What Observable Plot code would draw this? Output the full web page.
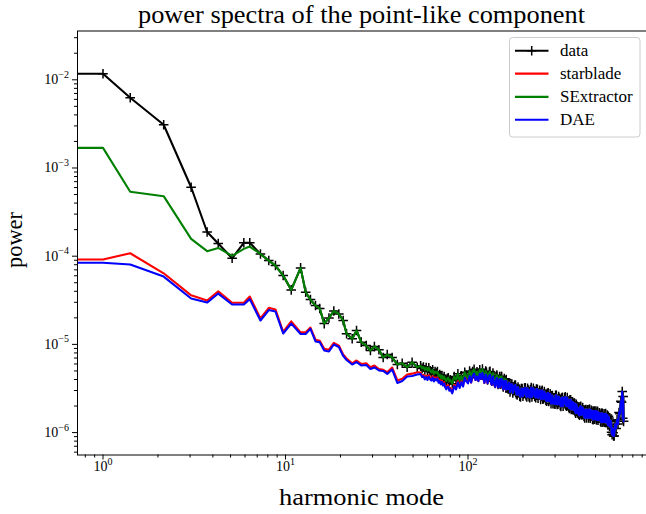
<!DOCTYPE html>
<html><head><meta charset="utf-8">
<script src="https://cdn.jsdelivr.net/npm/d3@7"></script>
<script src="https://cdn.jsdelivr.net/npm/@observablehq/plot@0.6"></script>
<style>
html,body{margin:0;padding:0;background:#fff;overflow:hidden}
#chart{position:relative;width:646px;height:514px}
#chart svg text,#chart svg tspan{font-family:'Liberation Serif',serif}
</style></head><body><div id="chart"></div>
<script>
const titleText = "power spectra of the point-like component";
const xLabel = "harmonic mode";
const yLabel = "power";
const seriesNames = ["data", "starblade", "SExtractor", "DAE"];
const seriesColors = ["#000000", "#ff0000", "#008000", "#0000ff"];

const xMajorTicks = [1, 10, 100];
const xMinorTicks = [0.8, 0.9, 2, 3, 4, 5, 6, 7, 8, 9, 20, 30, 40, 50, 60, 70, 80, 90, 200, 300, 400, 500, 600, 700, 800, 900];
const yMajorTicks = [1e-6, 1e-5, 1e-4, 1e-3, 1e-2];
const yMinorTicks = [6e-7, 7e-7, 8e-7, 9e-7, 2e-6, 3e-6, 4e-6, 5e-6, 6e-6, 7e-6, 8e-6, 9e-6,
  2e-5, 3e-5, 4e-5, 5e-5, 6e-5, 7e-5, 8e-5, 9e-5, 2e-4, 3e-4, 4e-4, 5e-4, 6e-4, 7e-4, 8e-4, 9e-4,
  2e-3, 3e-3, 4e-3, 5e-3, 6e-3, 7e-3, 8e-3, 9e-3, 2e-2, 3e-2];

const mode = [
  0, 1, 1.41, 2.15, 3.04, 3.72, 4.28, 5.1, 5.91, 6.37,
  7.29, 8.1, 8.81, 9.71, 10.75, 12.1, 12.9, 13.7, 14.6, 15.4,
  16.3, 17.3, 18.4, 19.6, 20.7, 21.6, 23.2, 24.5, 26, 27.7,
  29.2, 30.7, 32.5, 34.3, 36.1, 38.4, 41, 43.6, 46.4, 49.4,
  52.7,
  55, 56, 57, 58, 59, 60, 61, 62, 63, 64, 65, 66, 67, 68, 69, 70, 71, 72, 73, 74, 75, 76, 77, 78, 79, 80,
  82, 84, 86, 88, 90, 92, 94, 96, 98, 100, 102, 104, 106, 108, 110, 112, 114, 116, 118, 120,
  123, 125, 126, 128, 129, 131, 132, 134, 135, 137, 138, 140, 141, 143, 144, 146, 147, 149, 150, 152, 153, 155, 156, 158, 159, 161, 162, 164,
  166, 168, 170, 172, 174, 176, 178, 180, 182, 184, 186, 188, 190, 192, 194, 196, 198, 200, 202, 204, 206, 208, 210, 212, 214, 216, 218, 220, 222, 224, 226, 228, 230, 232,
  235, 237, 240, 242, 245, 247, 250, 252, 255, 257, 260, 262, 265, 267, 270, 272, 275, 277, 280, 282, 285, 287, 290, 292, 295, 297, 300, 302, 305, 308,
  311, 314, 317, 320, 323, 326, 329, 332, 335, 338, 341, 344, 347, 350, 353, 356, 359, 362, 365, 368, 371, 374, 377, 380, 383, 386, 389, 392, 395, 398, 401, 404,
  408, 411, 415, 418, 422, 425, 429, 432, 436, 439, 443, 446, 450, 453, 457, 460, 464, 467, 471, 474, 478, 481, 485, 488, 492, 495, 499, 502, 506, 509, 513, 516, 520, 524,
  528, 532, 536, 540, 544, 548, 552, 556, 560, 564, 568, 572, 576, 580, 584, 588, 592, 596, 600, 604, 608, 612, 616, 620, 624, 628,
  632, 640, 648, 656, 664, 672, 680, 688, 694, 700, 704, 708, 712
];

const dataPower = [
  1.17e-2, 1.17e-2, 6.25e-3, 3.09e-3, 6.05e-4, 1.88e-4, 1.39e-4, 9.47e-5, 1.42e-4, 1.42e-4,
  1.06e-4, 8.92e-5, 7.83e-5, 6.03e-5, 4.15e-5, 7.37e-5, 3.90e-5, 3.22e-5, 2.76e-5, 2.55e-5,
  1.72e-5, 1.99e-5, 2.39e-5, 2.21e-5, 1.865e-5, 1.32e-5, 1.157e-5, 1.437e-5, 1.06e-5, 9.7e-6,
  8.53e-6, 9.47e-6, 8.7e-6, 7.1e-6, 7.68e-6, 7.1e-6, 5.92e-6, 6.1e-6, 5.5e-6, 6.28e-6,
  5.5e-6,
  5.72e-6, 5.34e-6, 5.55e-6, 5.12e-6, 5.46e-6, 5.03e-6, 5.44e-6, 5.02e-6, 4.81e-6, 5.14e-6, 4.62e-6, 4.91e-6, 4.73e-6, 4.91e-6, 4.39e-6, 4.55e-6, 4.14e-6, 4.43e-6, 4.06e-6, 4.32e-6, 4.01e-6, 3.83e-6, 4.11e-6, 4.19e-6, 3.79e-6, 3.96e-6,
  3.58e-6, 4.33e-6, 3.97e-6, 4.64e-6, 3.87e-6, 4.41e-6, 3.89e-6, 4.84e-6, 4.37e-6, 4.15e-6, 4.99e-6, 4.19e-6, 4.92e-6, 5.22e-6, 4.44e-6, 4.89e-6, 4.31e-6, 5.14e-6, 4.46e-6, 5.24e-6,
  4.05e-6, 4.97e-6, 4.85e-6, 3.96e-6, 4.27e-6, 4.85e-6, 4.94e-6, 3.97e-6, 3.82e-6, 4.73e-6, 4.34e-6, 3.71e-6, 3.60e-6, 4.37e-6, 4.48e-6, 3.52e-6, 3.95e-6, 4.33e-6, 3.54e-6, 4.31e-6, 4.33e-6, 3.43e-6, 3.29e-6, 4.09e-6, 3.84e-6, 3.23e-6, 4.00e-6, 3.25e-6,
  3.13e-6, 3.68e-6, 2.88e-6, 3.52e-6, 3.55e-6, 2.82e-6, 3.03e-6, 3.44e-6, 3.45e-6, 2.75e-6, 2.68e-6, 3.28e-6, 3.04e-6, 2.59e-6, 2.54e-6, 3.15e-6, 3.15e-6, 2.58e-6, 2.75e-6, 3.19e-6, 3.22e-6, 2.62e-6, 2.53e-6, 3.17e-6, 3.03e-6, 2.55e-6, 2.49e-6, 3.07e-6, 3.24e-6, 2.54e-6, 2.72e-6, 3.18e-6, 2.97e-6, 2.57e-6,
  2.49e-6, 3.11e-6, 3.10e-6, 2.46e-6, 2.74e-6, 3.02e-6, 2.38e-6, 2.93e-6, 3.02e-6, 2.39e-6, 2.43e-6, 2.92e-6, 2.70e-6, 2.31e-6, 2.27e-6, 2.79e-6, 2.83e-6, 2.26e-6, 2.38e-6, 2.75e-6, 2.13e-6, 2.62e-6, 2.63e-6, 2.13e-6, 2.42e-6, 2.13e-6, 2.10e-6, 2.64e-6, 2.65e-6, 2.08e-6,
  2.10e-6, 2.57e-6, 2.45e-6, 2.03e-6, 1.98e-6, 2.46e-6, 2.51e-6, 1.99e-6, 2.21e-6, 2.48e-6, 2.54e-6, 2.03e-6, 1.99e-6, 2.49e-6, 2.27e-6, 1.95e-6, 1.88e-6, 2.35e-6, 2.36e-6, 1.83e-6, 1.92e-6, 2.23e-6, 1.81e-6, 2.15e-6, 2.16e-6, 1.72e-6, 1.66e-6, 2.09e-6, 1.98e-6, 1.67e-6, 1.88e-6, 1.62e-6,
  1.57e-6, 1.96e-6, 1.99e-6, 1.59e-6, 1.60e-6, 1.92e-6, 1.79e-6, 1.52e-6, 1.47e-6, 1.81e-6, 1.83e-6, 1.47e-6, 1.64e-6, 1.81e-6, 1.47e-6, 1.83e-6, 1.84e-6, 1.46e-6, 1.53e-6, 1.79e-6, 1.76e-6, 1.42e-6, 1.40e-6, 1.74e-6, 1.76e-6, 1.42e-6, 1.51e-6, 1.75e-6, 1.39e-6, 1.69e-6, 1.74e-6, 1.38e-6, 1.50e-6, 1.68e-6,
  1.65e-6, 1.35e-6, 1.31e-6, 1.65e-6, 1.65e-6, 1.31e-6, 1.39e-6, 1.63e-6, 1.31e-6, 1.59e-6, 1.64e-6, 1.30e-6, 1.43e-6, 1.58e-6, 1.22e-6, 1.53e-6, 1.46e-6, 1.17e-6, 1.18e-6, 1.37e-6, 1.33e-6, 1.01e-6, 9.47e-7, 1.11e-6, 9.95e-7, 9.15e-7,
  9.15e-7, 1.24e-6, 1.11e-6, 1.40e-6, 1.25e-6, 1.69e-6, 1.63e-6, 2.26e-6, 2.21e-6, 2.92e-6, 1.45e-6, 2.57e-6, 1.34e-6
];

const starbladePower = [
  9.18e-5, 9.18e-5, 1.08e-4, 6.4e-5, 3.6e-5, 3.14e-5, 4.0e-5, 2.97e-5, 2.97e-5, 3.49e-5,
  1.965e-5, 2.6e-5, 2.49e-5, 1.39e-5, 1.82e-5, 1.37e-5, 1.37e-5, 1.55e-5, 1.13e-5, 1.1e-5,
  8.9e-6, 8.7e-6, 1.04e-5, 9.7e-6, 7.68e-6, 6.92e-6, 6.1e-6, 6.57e-6, 6.0e-6, 6.1e-6,
  5.5e-6, 5.77e-6, 5.26e-6, 5.15e-6, 4.84e-6, 5.47e-6, 3.9e-6, 4.08e-6, 4.56e-6, 4.66e-6,
  4.84e-6,
  4.80e-6, 4.43e-6, 4.52e-6, 4.17e-6, 4.43e-6, 4.11e-6, 4.48e-6, 4.17e-6, 4.05e-6, 4.36e-6, 3.95e-6, 4.22e-6, 4.07e-6, 4.24e-6, 3.82e-6, 3.98e-6, 3.66e-6, 3.90e-6, 3.55e-6, 3.73e-6, 3.40e-6, 3.21e-6, 3.41e-6, 3.44e-6, 3.10e-6, 3.21e-6,
  2.90e-6, 3.48e-6, 3.21e-6, 3.85e-6, 3.33e-6, 3.88e-6, 3.46e-6, 4.35e-6, 3.95e-6, 3.75e-6, 4.37e-6, 3.69e-6, 4.38e-6, 4.67e-6, 3.95e-6, 4.31e-6, 3.84e-6, 4.64e-6, 4.05e-6, 4.75e-6,
  3.67e-6, 4.54e-6, 4.44e-6, 3.63e-6, 3.91e-6, 4.44e-6, 4.51e-6, 3.62e-6, 3.48e-6, 4.32e-6, 3.95e-6, 3.39e-6, 3.30e-6, 4.02e-6, 4.14e-6, 3.26e-6, 3.66e-6, 4.03e-6, 3.30e-6, 4.03e-6, 4.06e-6, 3.23e-6, 3.10e-6, 3.89e-6, 3.68e-6, 3.07e-6, 3.85e-6, 3.12e-6,
  3.13e-6, 3.68e-6, 2.88e-6, 3.52e-6, 3.55e-6, 2.82e-6, 3.03e-6, 3.44e-6, 3.45e-6, 2.75e-6, 2.68e-6, 3.28e-6, 3.04e-6, 2.59e-6, 2.54e-6, 3.15e-6, 3.15e-6, 2.58e-6, 2.75e-6, 3.19e-6, 3.22e-6, 2.62e-6, 2.53e-6, 3.17e-6, 3.03e-6, 2.55e-6, 2.49e-6, 3.07e-6, 3.24e-6, 2.54e-6, 2.72e-6, 3.18e-6, 2.97e-6, 2.57e-6,
  2.49e-6, 3.11e-6, 3.10e-6, 2.46e-6, 2.74e-6, 3.02e-6, 2.38e-6, 2.93e-6, 3.02e-6, 2.39e-6, 2.43e-6, 2.92e-6, 2.70e-6, 2.31e-6, 2.27e-6, 2.79e-6, 2.83e-6, 2.26e-6, 2.38e-6, 2.75e-6, 2.13e-6, 2.62e-6, 2.63e-6, 2.13e-6, 2.42e-6, 2.13e-6, 2.10e-6, 2.64e-6, 2.65e-6, 2.08e-6,
  2.10e-6, 2.57e-6, 2.45e-6, 2.03e-6, 1.98e-6, 2.46e-6, 2.51e-6, 1.99e-6, 2.21e-6, 2.48e-6, 2.54e-6, 2.03e-6, 1.99e-6, 2.49e-6, 2.27e-6, 1.95e-6, 1.88e-6, 2.35e-6, 2.36e-6, 1.83e-6, 1.92e-6, 2.23e-6, 1.81e-6, 2.15e-6, 2.16e-6, 1.72e-6, 1.66e-6, 2.09e-6, 1.98e-6, 1.67e-6, 1.88e-6, 1.62e-6,
  1.57e-6, 1.96e-6, 1.99e-6, 1.59e-6, 1.60e-6, 1.92e-6, 1.79e-6, 1.52e-6, 1.47e-6, 1.81e-6, 1.83e-6, 1.47e-6, 1.64e-6, 1.81e-6, 1.47e-6, 1.83e-6, 1.84e-6, 1.46e-6, 1.53e-6, 1.79e-6, 1.76e-6, 1.42e-6, 1.40e-6, 1.74e-6, 1.76e-6, 1.42e-6, 1.51e-6, 1.75e-6, 1.39e-6, 1.69e-6, 1.74e-6, 1.38e-6, 1.50e-6, 1.68e-6,
  1.65e-6, 1.35e-6, 1.31e-6, 1.65e-6, 1.65e-6, 1.31e-6, 1.39e-6, 1.63e-6, 1.31e-6, 1.59e-6, 1.64e-6, 1.30e-6, 1.43e-6, 1.58e-6, 1.22e-6, 1.53e-6, 1.46e-6, 1.17e-6, 1.18e-6, 1.37e-6, 1.33e-6, 1.01e-6, 9.47e-7, 1.11e-6, 9.95e-7, 9.15e-7,
  9.15e-7, 1.24e-6, 1.11e-6, 1.40e-6, 1.25e-6, 1.69e-6, 1.63e-6, 2.26e-6, 2.21e-6, 2.92e-6, 1.45e-6, 2.57e-6, 1.34e-6
];

const sextractorPower = [
  1.69e-3, 1.69e-3, 5.37e-4, 4.79e-4, 1.57e-4, 1.14e-4, 1.24e-4, 1.01e-4, 1.21e-4, 1.285e-4,
  1.06e-4, 8.92e-5, 7.83e-5, 6.03e-5, 4.15e-5, 7.37e-5, 3.90e-5, 3.22e-5, 2.76e-5, 2.55e-5,
  1.72e-5, 1.99e-5, 2.39e-5, 2.21e-5, 1.865e-5, 1.32e-5, 1.157e-5, 1.437e-5, 1.06e-5, 9.7e-6,
  8.53e-6, 9.47e-6, 8.7e-6, 7.1e-6, 7.68e-6, 7.1e-6, 5.92e-6, 6.1e-6, 5.5e-6, 6.28e-6,
  5.5e-6,
  5.72e-6, 5.34e-6, 5.55e-6, 5.12e-6, 5.46e-6, 5.03e-6, 5.44e-6, 5.02e-6, 4.81e-6, 5.14e-6, 4.62e-6, 4.91e-6, 4.73e-6, 4.91e-6, 4.39e-6, 4.55e-6, 4.14e-6, 4.43e-6, 4.06e-6, 4.32e-6, 4.01e-6, 3.83e-6, 4.11e-6, 4.19e-6, 3.79e-6, 3.96e-6,
  3.58e-6, 4.33e-6, 3.97e-6, 4.64e-6, 3.87e-6, 4.41e-6, 3.89e-6, 4.84e-6, 4.37e-6, 4.15e-6, 4.99e-6, 4.19e-6, 4.92e-6, 5.22e-6, 4.44e-6, 4.89e-6, 4.31e-6, 5.14e-6, 4.46e-6, 5.24e-6,
  4.05e-6, 4.97e-6, 4.85e-6, 3.96e-6, 4.27e-6, 4.85e-6, 4.94e-6, 3.97e-6, 3.82e-6, 4.73e-6, 4.34e-6, 3.71e-6, 3.60e-6, 4.37e-6, 4.48e-6, 3.52e-6, 3.95e-6, 4.33e-6, 3.54e-6, 4.31e-6, 4.33e-6, 3.43e-6, 3.29e-6, 4.09e-6, 3.84e-6, 3.23e-6, 4.00e-6, 3.25e-6,
  3.13e-6, 3.68e-6, 2.88e-6, 3.52e-6, 3.55e-6, 2.82e-6, 3.03e-6, 3.44e-6, 3.45e-6, 2.75e-6, 2.68e-6, 3.28e-6, 3.04e-6, 2.59e-6, 2.54e-6, 3.15e-6, 3.15e-6, 2.58e-6, 2.75e-6, 3.19e-6, 3.22e-6, 2.62e-6, 2.53e-6, 3.17e-6, 3.03e-6, 2.55e-6, 2.49e-6, 3.07e-6, 3.24e-6, 2.54e-6, 2.72e-6, 3.18e-6, 2.97e-6, 2.57e-6,
  2.49e-6, 3.11e-6, 3.10e-6, 2.46e-6, 2.74e-6, 3.02e-6, 2.38e-6, 2.93e-6, 3.02e-6, 2.39e-6, 2.43e-6, 2.92e-6, 2.70e-6, 2.31e-6, 2.27e-6, 2.79e-6, 2.83e-6, 2.26e-6, 2.38e-6, 2.75e-6, 2.13e-6, 2.62e-6, 2.63e-6, 2.13e-6, 2.42e-6, 2.13e-6, 2.10e-6, 2.64e-6, 2.65e-6, 2.08e-6,
  2.10e-6, 2.57e-6, 2.45e-6, 2.03e-6, 1.98e-6, 2.46e-6, 2.51e-6, 1.99e-6, 2.21e-6, 2.48e-6, 2.54e-6, 2.03e-6, 1.99e-6, 2.49e-6, 2.27e-6, 1.95e-6, 1.88e-6, 2.35e-6, 2.36e-6, 1.83e-6, 1.92e-6, 2.23e-6, 1.81e-6, 2.15e-6, 2.16e-6, 1.72e-6, 1.66e-6, 2.09e-6, 1.98e-6, 1.67e-6, 1.88e-6, 1.62e-6,
  1.57e-6, 1.96e-6, 1.99e-6, 1.59e-6, 1.60e-6, 1.92e-6, 1.79e-6, 1.52e-6, 1.47e-6, 1.81e-6, 1.83e-6, 1.47e-6, 1.64e-6, 1.81e-6, 1.47e-6, 1.83e-6, 1.84e-6, 1.46e-6, 1.53e-6, 1.79e-6, 1.76e-6, 1.42e-6, 1.40e-6, 1.74e-6, 1.76e-6, 1.42e-6, 1.51e-6, 1.75e-6, 1.39e-6, 1.69e-6, 1.74e-6, 1.38e-6, 1.50e-6, 1.68e-6,
  1.65e-6, 1.35e-6, 1.31e-6, 1.65e-6, 1.65e-6, 1.31e-6, 1.39e-6, 1.63e-6, 1.31e-6, 1.59e-6, 1.64e-6, 1.30e-6, 1.43e-6, 1.58e-6, 1.22e-6, 1.53e-6, 1.46e-6, 1.17e-6, 1.18e-6, 1.37e-6, 1.33e-6, 1.01e-6, 9.47e-7, 1.11e-6, 9.95e-7, 9.15e-7,
  9.15e-7, 1.24e-6, 1.11e-6, 1.40e-6, 1.25e-6, 1.69e-6, 1.63e-6, 2.26e-6, 2.21e-6, 2.92e-6, 1.45e-6, 2.57e-6, 1.34e-6
];

const daePower = [
  8.41e-5, 8.41e-5, 8.05e-5, 5.87e-5, 3.31e-5, 2.98e-5, 3.77e-5, 2.83e-5, 2.83e-5, 3.26e-5,
  1.865e-5, 2.45e-5, 2.36e-5, 1.33e-5, 1.72e-5, 1.31e-5, 1.31e-5, 1.5e-5, 1.08e-5, 1.06e-5,
  8.53e-6, 8.3e-6, 9.97e-6, 9.35e-6, 7.4e-6, 6.65e-6, 5.92e-6, 6.3e-6, 5.77e-6, 5.84e-6,
  5.26e-6, 5.47e-6, 5.06e-6, 5.0e-6, 4.62e-6, 5.2e-6, 3.65e-6, 3.85e-6, 4.33e-6, 4.39e-6,
  4.56e-6,
  4.62e-6, 4.26e-6, 4.35e-6, 4.01e-6, 4.26e-6, 3.95e-6, 4.31e-6, 4.01e-6, 3.89e-6, 4.19e-6, 3.80e-6, 4.06e-6, 3.91e-6, 4.08e-6, 3.67e-6, 3.83e-6, 3.52e-6, 3.75e-6, 3.41e-6, 3.59e-6, 3.27e-6, 3.09e-6, 3.28e-6, 3.31e-6, 2.98e-6, 3.09e-6,
  2.79e-6, 3.35e-6, 3.09e-6, 3.70e-6, 3.20e-6, 3.73e-6, 3.33e-6, 4.18e-6, 3.80e-6, 3.61e-6, 4.37e-6, 3.69e-6, 4.38e-6, 4.67e-6, 3.95e-6, 4.31e-6, 3.84e-6, 4.64e-6, 4.05e-6, 4.75e-6,
  3.67e-6, 4.54e-6, 4.44e-6, 3.63e-6, 3.91e-6, 4.44e-6, 4.51e-6, 3.62e-6, 3.48e-6, 4.32e-6, 3.95e-6, 3.39e-6, 3.30e-6, 4.02e-6, 4.14e-6, 3.26e-6, 3.66e-6, 4.03e-6, 3.30e-6, 4.03e-6, 4.06e-6, 3.23e-6, 3.10e-6, 3.89e-6, 3.68e-6, 3.07e-6, 3.85e-6, 3.12e-6,
  3.13e-6, 3.68e-6, 2.88e-6, 3.52e-6, 3.55e-6, 2.82e-6, 3.03e-6, 3.44e-6, 3.45e-6, 2.75e-6, 2.68e-6, 3.28e-6, 3.04e-6, 2.59e-6, 2.54e-6, 3.15e-6, 3.15e-6, 2.58e-6, 2.75e-6, 3.19e-6, 3.22e-6, 2.62e-6, 2.53e-6, 3.17e-6, 3.03e-6, 2.55e-6, 2.49e-6, 3.07e-6, 3.24e-6, 2.54e-6, 2.72e-6, 3.18e-6, 2.97e-6, 2.57e-6,
  2.49e-6, 3.11e-6, 3.10e-6, 2.46e-6, 2.74e-6, 3.02e-6, 2.38e-6, 2.93e-6, 3.02e-6, 2.39e-6, 2.43e-6, 2.92e-6, 2.70e-6, 2.31e-6, 2.27e-6, 2.79e-6, 2.83e-6, 2.26e-6, 2.38e-6, 2.75e-6, 2.13e-6, 2.62e-6, 2.63e-6, 2.13e-6, 2.42e-6, 2.13e-6, 2.10e-6, 2.64e-6, 2.65e-6, 2.08e-6,
  2.10e-6, 2.57e-6, 2.45e-6, 2.03e-6, 1.98e-6, 2.46e-6, 2.51e-6, 1.99e-6, 2.21e-6, 2.48e-6, 2.54e-6, 2.03e-6, 1.99e-6, 2.49e-6, 2.27e-6, 1.95e-6, 1.88e-6, 2.35e-6, 2.36e-6, 1.83e-6, 1.92e-6, 2.23e-6, 1.81e-6, 2.15e-6, 2.16e-6, 1.72e-6, 1.66e-6, 2.09e-6, 1.98e-6, 1.67e-6, 1.88e-6, 1.62e-6,
  1.57e-6, 1.96e-6, 1.99e-6, 1.59e-6, 1.60e-6, 1.92e-6, 1.79e-6, 1.52e-6, 1.47e-6, 1.81e-6, 1.83e-6, 1.47e-6, 1.64e-6, 1.81e-6, 1.47e-6, 1.83e-6, 1.84e-6, 1.46e-6, 1.53e-6, 1.79e-6, 1.76e-6, 1.42e-6, 1.40e-6, 1.74e-6, 1.76e-6, 1.42e-6, 1.51e-6, 1.75e-6, 1.39e-6, 1.69e-6, 1.74e-6, 1.38e-6, 1.50e-6, 1.68e-6,
  1.65e-6, 1.35e-6, 1.31e-6, 1.65e-6, 1.65e-6, 1.31e-6, 1.39e-6, 1.63e-6, 1.31e-6, 1.59e-6, 1.64e-6, 1.30e-6, 1.43e-6, 1.58e-6, 1.22e-6, 1.53e-6, 1.46e-6, 1.17e-6, 1.18e-6, 1.37e-6, 1.33e-6, 1.01e-6, 9.47e-7, 1.11e-6, 9.95e-7, 9.15e-7,
  9.15e-7, 1.24e-6, 1.11e-6, 1.40e-6, 1.25e-6, 1.69e-6, 1.63e-6, 2.26e-6, 2.21e-6, 2.92e-6, 1.45e-6, 2.57e-6, 1.34e-6
];

// table built from the arrays
const rows = mode.map((m, i) => ({
  mode: m, data: dataPower[i], starblade: starbladePower[i],
  sextractor: sextractorPower[i], dae: daePower[i]
}));
// like matplotlib's log "clip": the DC mode is pushed far to the left
const xPos = d => (d.mode > 0 ? d.mode : 1e-300);

const plusSymbol = {
  draw(ctx, size) {
    const r = Math.sqrt(size / Math.PI);
    ctx.moveTo(-r, 0); ctx.lineTo(r, 0);
    ctx.moveTo(0, -r); ctx.lineTo(0, r);
  }
};
const expFormat = d => "10^" + Math.round(Math.log10(d));
const LW = 2.1;
const MR = 4.8;
const FONT = "'Liberation Serif', serif";

const plot = Plot.plot({
  width: 646, height: 514,
  marginLeft: 77, marginRight: 0, marginTop: 30.5, marginBottom: 59.5,
  style: {fontFamily: FONT, fontSize: "14px", background: "white", maxWidth: "none", color: "black"},
  x: {type: "log", domain: [0.7249, 950.7]},
  y: {type: "log", domain: [5.57e-7, 0.03575]},
  marks: [
    Plot.line(rows, {x: xPos, y: "data", stroke: seriesColors[0], strokeWidth: LW, clip: true}),
    Plot.dot(rows.filter(d => d.mode > 0), {x: "mode", y: "data", symbol: plusSymbol, r: MR, stroke: seriesColors[0], fill: "none", strokeWidth: 1.5, clip: true}),
    Plot.line(rows, {x: xPos, y: "starblade", stroke: seriesColors[1], strokeWidth: LW, clip: true}),
    Plot.line(rows, {x: xPos, y: "sextractor", stroke: seriesColors[2], strokeWidth: LW, clip: true}),
    Plot.line(rows, {x: xPos, y: "dae", stroke: seriesColors[3], strokeWidth: LW, clip: true}),
    Plot.axisX({ticks: xMinorTicks, tickSize: 3, tickFormat: () => "", label: null}),
    Plot.axisX({ticks: xMajorTicks, tickSize: 5, tickPadding: 1.5, tickFormat: expFormat, fontSize: 14, label: null}),
    Plot.axisY({ticks: yMinorTicks, tickSize: 3, tickFormat: () => "", label: null}),
    Plot.axisY({ticks: yMajorTicks, tickSize: 5, tickPadding: 3.5, tickFormat: expFormat, fontSize: 14, label: null}),
    Plot.frame({stroke: "black", strokeWidth: 1})
  ]
});

document.getElementById("chart").appendChild(plot);
plot.setAttribute("font-family", FONT);
const svg = d3.select(plot);

// superscript exponents on tick labels
svg.selectAll('g[aria-label="x-axis tick label"] text, g[aria-label="y-axis tick label"] text').each(function () {
  const t = this.textContent;
  if (!t.startsWith("10^")) return;
  const exp = t.slice(3).replace("-", "\u2212");
  const el = d3.select(this);
  el.text(null).attr("font-family", FONT);
  el.append("tspan").text("10");
  el.append("tspan").attr("dy", -6.5).attr("font-size", "10px").text(exp);
});

// title and axis labels
const axesCenter = (77 + 646) / 2;
svg.append("text").attr("x", axesCenter).attr("y", 23).attr("text-anchor", "middle")
  .attr("font-family", FONT).attr("font-size", 25).attr("textLength", 447).attr("lengthAdjust", "spacingAndGlyphs")
  .attr("fill", "black").text(titleText);
svg.append("text").attr("x", axesCenter).attr("y", 505).attr("text-anchor", "middle")
  .attr("font-family", FONT).attr("font-size", 24).attr("textLength", 165).attr("lengthAdjust", "spacingAndGlyphs")
  .attr("fill", "black").text(xLabel);
svg.append("text").attr("transform", "translate(22,240) rotate(-90)").attr("text-anchor", "middle")
  .attr("font-family", FONT).attr("font-size", 23).attr("textLength", 56).attr("lengthAdjust", "spacingAndGlyphs")
  .attr("fill", "black").text(yLabel);

// legend
const lg = svg.append("g");
lg.append("rect").attr("x", 509.5).attr("y", 37.5).attr("width", 130.5).attr("height", 99.5)
  .attr("rx", 3).attr("fill", "white").attr("fill-opacity", 0.8).attr("stroke", "#cccccc").attr("stroke-width", 1);
const rowY = [50.7, 73.6, 96.9, 119.8];
seriesNames.forEach((name, i) => {
  const y = rowY[i];
  lg.append("line").attr("x1", 515).attr("x2", 548.5).attr("y1", y).attr("y2", y)
    .attr("stroke", seriesColors[i]).attr("stroke-width", LW);
  if (i === 0) {
    lg.append("path").attr("d", `M${531.7 - MR},${y}H${531.7 + MR}M531.7,${y - MR}V${y + MR}`)
      .attr("stroke", "black").attr("stroke-width", 1.5).attr("fill", "none");
  }
  lg.append("text").attr("x", 560).attr("y", y + 5.5).attr("text-anchor", "start")
    .attr("font-family", FONT).attr("font-size", 17).attr("fill", "black").text(name);
});
</script></body></html>
